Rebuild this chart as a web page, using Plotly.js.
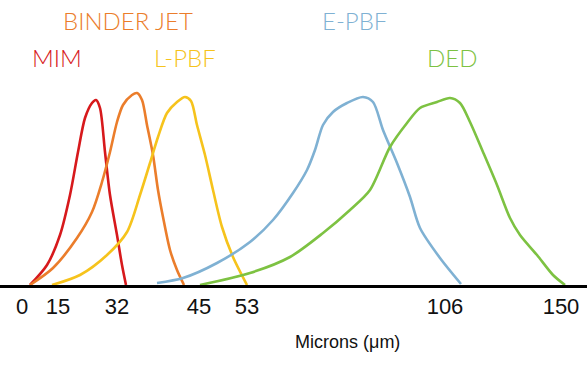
<!DOCTYPE html>
<html><head><meta charset="utf-8">
<script src="https://cdn.plot.ly/plotly-3.0.1.min.js"></script>
<style>html,body{margin:0;padding:0;background:#fff}</style>
</head><body><div id="chart" style="width:587px;height:368px"></div>
<script>
// Axis positions (drawn, non-linear micron scale) and labels
const tickPos = [22, 58, 117, 199, 247, 445, 561];
const tickText = ['0', '15', '32', '45', '53', '106', '150'];
const axisTitle = 'Microns (\u03bcm)';

// Series names and colours
const seriesNames = ['MIM', 'BINDER JET', 'L-PBF', 'E-PBF', 'DED'];
const seriesColors = ['#d7191c', '#eb7d2b', '#f6c31c', '#7fb1d3', '#7dc242'];

// Curve points (position along drawn axis, relative height)
const mimX = [30, 47, 60, 70, 78, 85, 92, 96, 100, 105, 110, 117, 122, 126];
const mimY = [0, 20, 50, 90, 133, 167, 182, 185, 177, 133, 90, 50, 20, 0];

const bjX = [30, 53, 77, 92, 102, 110, 117, 123, 132, 137, 142, 147, 153, 158, 163, 170, 177, 184];
const bjY = [0, 17, 47, 73, 103, 133, 163, 180, 190, 192, 185, 160, 130, 95, 68, 35, 15, 0];

const lpX = [52, 80, 107, 127, 140, 150, 158, 167, 177, 185, 191, 197, 205, 213, 222, 233, 247];
const lpY = [0, 10, 30, 53, 90, 122, 148, 172, 183, 188, 184, 160, 130, 95, 58, 28, 0];

const ebX = [157, 183, 217, 250, 273, 293, 307, 315, 323, 333, 347, 363, 373, 383, 397, 410, 420, 440, 461];
const ebY = [2, 7, 22, 43, 65, 92, 115, 135, 160, 173, 182, 188, 183, 155, 122, 88, 57, 27, 1];

const dedX = [200, 250, 290, 323, 350, 370, 390, 407, 420, 437, 450, 460, 470, 483, 497, 510, 520, 537, 553, 565];
const dedY = [0, 12, 28, 52, 75, 95, 138, 162, 177, 183, 187, 182, 163, 133, 100, 67, 50, 30, 10, 0];

const seriesX = [mimX, bjX, lpX, ebX, dedX];
const seriesY = [mimY, bjY, lpY, ebY, dedY];

// Label anchor positions
const labelX = [57, 128, 185, 354, 452];
const labelY = [228, 265, 228, 265, 228];

const traces = seriesNames.map((n, i) => ({
  x: seriesX[i], y: seriesY[i], type: 'scatter', mode: 'lines', name: n,
  line: {color: seriesColors[i], width: 2.6, shape: 'spline', smoothing: 0.8},
  hoverinfo: 'skip', cliponaxis: false
}));

const annotations = seriesNames.map((n, i) => ({
  x: labelX[i], y: labelY[i], xref: 'x', yref: 'y', text: n, showarrow: false,
  font: {family: 'Lato, sans-serif', size: 24, color: seriesColors[i], weight: 300},
  xanchor: 'center', yanchor: 'middle'
}));
annotations.push({
  x: 347 / 587, y: -57 / 285, xref: 'paper', yref: 'paper', text: axisTitle, showarrow: false,
  font: {family: 'Liberation Sans, Arial, sans-serif', size: 18, color: '#111'},
  xanchor: 'center', yanchor: 'middle'
});

const layout = {
  width: 587, height: 368,
  margin: {l: 0, r: 0, t: 0, b: 83, pad: 0},
  paper_bgcolor: '#fff', plot_bgcolor: '#fff',
  showlegend: false,
  xaxis: {
    range: [0, 587], showgrid: false, zeroline: false,
    showline: true, linecolor: '#000', linewidth: 3,
    tickmode: 'array', tickvals: tickPos, ticktext: tickText,
    ticks: '', ticklabelstandoff: 0,
    tickfont: {family: 'Liberation Sans, Arial, sans-serif', size: 22, color: '#111'},
    fixedrange: true
  },
  yaxis: {
    range: [0, 285], showgrid: false, zeroline: false, showline: false,
    showticklabels: false, ticks: '', fixedrange: true
  },
  annotations: annotations
};

Plotly.newPlot('chart', traces, layout, {staticPlot: true, displayModeBar: false});
</script></body></html>
